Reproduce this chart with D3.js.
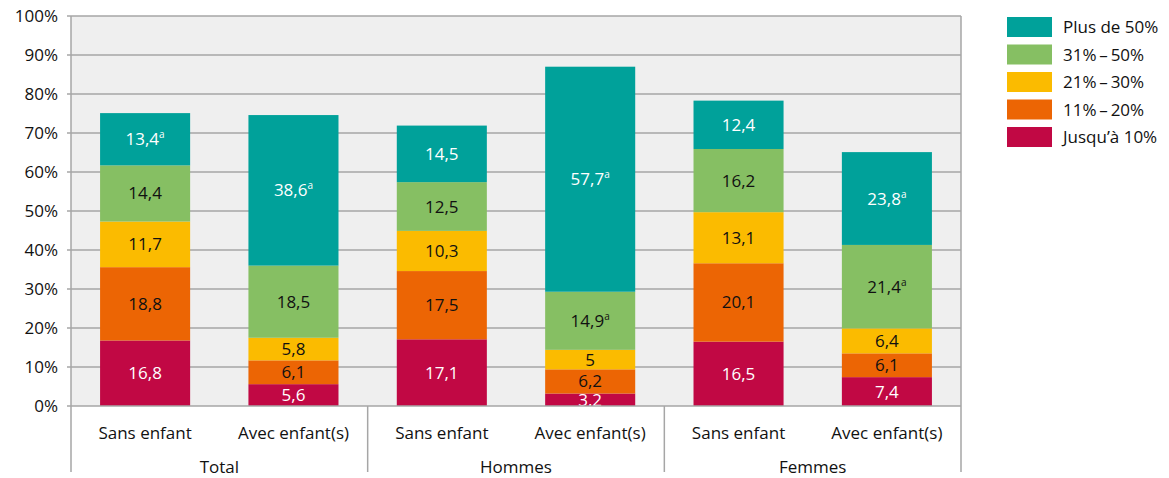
<!DOCTYPE html>
<html><head><meta charset="utf-8">
<script src="https://cdn.jsdelivr.net/npm/d3@7"></script>
<style>body{margin:0;background:#fff;} text{font-family:"Open Sans",sans-serif;}</style>
</head><body><svg id="c" width="1169" height="478"></svg>
<script>
const groups = ["Total","Hommes","Femmes"];
const subcats = ["Sans enfant","Avec enfant(s)"];
const seriesNames = ["Jusqu’à 10%","11%\u2009–\u200920%","21%\u2009–\u200930%","31%\u2009–\u200950%","Plus de 50%"];
const seriesColors = ["#c10844","#ec6504","#fbbb00","#86bf63","#00a19a"];
const labelColors = ["#fff","#111","#111","#111","#fff"];
// values per bar (Total Sans, Total Avec, Hommes Sans, Hommes Avec, Femmes Sans, Femmes Avec)
const upTo10   = [16.8, 5.6, 17.1, 3.2, 16.5, 7.4];
const p11to20  = [18.8, 6.1, 17.5, 6.2, 20.1, 6.1];
const p21to30  = [11.7, 5.8, 10.3, 5.0, 13.1, 6.4];
const p31to50  = [14.4, 18.5, 12.5, 14.9, 16.2, 21.4];
const over50   = [13.4, 38.6, 14.5, 57.7, 12.4, 23.8];
const flags31to50 = [false,false,false,true,false,true];
const flagsOver50 = [true,true,false,true,false,true];
const yTicks = [0,10,20,30,40,50,60,70,80,90,100];

const series = [upTo10,p11to20,p21to30,p31to50,over50];
const noFlags = [false,false,false,false,false,false];
const flags = [noFlags,noFlags,noFlags,flags31to50,flagsOver50];
const bars = [];
groups.forEach((g,gi)=>subcats.forEach((s,si)=>bars.push({id:gi*2+si,g,s})));

const svg = d3.select("#c");
const L=71, R=961, T=16, B=406;
const FS=17;
const x = d3.scaleBand().domain(bars.map(b=>b.id)).range([L,R]).paddingInner(0.393).paddingOuter(0.196);
const y = d3.scaleLinear().domain([0,100]).range([B,T]);
const grid="#a6a6a6";

svg.append("rect").attr("x",L).attr("y",T).attr("width",R-L).attr("height",B-T).attr("fill","#efefef");
svg.append("g").selectAll("line").data(yTicks.filter(t=>t>0)).join("line")
  .attr("x1",L-4).attr("x2",R).attr("y1",d=>y(d)).attr("y2",d=>y(d)).attr("stroke",grid).attr("stroke-width",1.5);
svg.append("line").attr("x1",R).attr("x2",R).attr("y1",T).attr("y2",B).attr("stroke",grid).attr("stroke-width",1.5);

// stacks
series.forEach((vals,si)=>{
  const gS = svg.append("g");
  bars.forEach((b,i)=>{
    let base=0; for(let k=0;k<si;k++) base+=series[k][i];
    const v=vals[i];
    const y0=y(base), y1=y(base+v);
    gS.append("rect").attr("x",x(b.id)).attr("width",x.bandwidth()).attr("y",y1).attr("height",y0-y1).attr("fill",seriesColors[si]);
    const t = gS.append("text").attr("x",x(b.id)+x.bandwidth()/2).attr("y",(y0+y1)/2+6)
      .attr("text-anchor","middle").attr("font-size",FS).attr("fill",labelColors[si]);
    t.append("tspan").text(String(v).replace(".",","));
    if(flags[si][i]) t.append("tspan").attr("font-size",10).attr("dy",-7).text("a");
  });
});

// y axis
svg.append("line").attr("x1",L).attr("x2",L).attr("y1",T).attr("y2",472).attr("stroke",grid).attr("stroke-width",1.5);
svg.append("line").attr("x1",L-4).attr("x2",R).attr("y1",B).attr("y2",B).attr("stroke",grid).attr("stroke-width",1.5);
svg.append("g").selectAll("text").data(yTicks).join("text")
  .attr("x",L-13).attr("y",d=>y(d)+6).attr("text-anchor","end").attr("font-size",FS).attr("fill","#111")
  .text(d=>d+"%");

// category axis
const gw=(R-L)/groups.length;
groups.forEach((g,gi)=>{
  const gx = L+gw*(gi+1);
  svg.append("line").attr("x1",gx).attr("x2",gx).attr("y1",B).attr("y2",472).attr("stroke",grid).attr("stroke-width",1.5);
  svg.append("text").attr("x",L+gw*gi+gw/2).attr("y",473).attr("text-anchor","middle").attr("font-size",FS).attr("fill","#111").text(g);
});
svg.append("g").selectAll("text").data(bars).join("text")
  .attr("x",b=>x(b.id)+x.bandwidth()/2).attr("y",439).attr("text-anchor","middle").attr("font-size",FS).attr("fill","#111")
  .text(b=>b.s);

// legend
const legOrder=[4,3,2,1,0];
const lg=svg.append("g");
legOrder.forEach((si,k)=>{
  const yy=17+k*27.5;
  lg.append("rect").attr("x",1007).attr("y",yy).attr("width",45).attr("height",20).attr("fill",seriesColors[si]);
  lg.append("text").attr("x",1063).attr("y",yy+16).attr("font-size",FS).attr("fill","#111").text(seriesNames[si]);
});
</script></body></html>
